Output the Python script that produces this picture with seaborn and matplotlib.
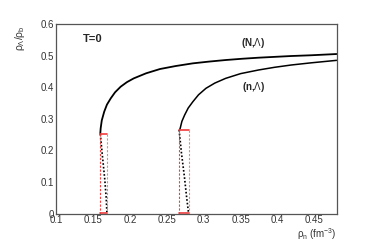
import numpy as np
import pandas as pd
import seaborn as sns
import matplotlib
matplotlib.use("Agg")
import matplotlib.pyplot as plt
from matplotlib.ticker import MultipleLocator, FuncFormatter

# (N,Lambda) branch
nl_x = [0.160, 0.1605, 0.162, 0.1653, 0.169, 0.1742, 0.180, 0.1876, 0.196, 0.2053, 0.222,
        0.2409, 0.262, 0.2853, 0.307, 0.3297, 0.352, 0.3743, 0.396, 0.4187, 0.445, 0.480]
nl_y = [0.254, 0.270, 0.295, 0.3226, 0.345, 0.365, 0.384, 0.4017, 0.416, 0.428, 0.444,
        0.4576, 0.467, 0.4755, 0.481, 0.486, 0.490, 0.4934, 0.496, 0.4987, 0.501, 0.505]
# (n,Lambda) branch
ne_x = [0.2675, 0.2684, 0.2705, 0.2742, 0.279, 0.2853, 0.293, 0.3031, 0.315, 0.3297,
        0.350, 0.3743, 0.396, 0.4187, 0.445, 0.480]
ne_y = [0.265, 0.272, 0.292, 0.312, 0.334, 0.354, 0.376, 0.3966, 0.413, 0.428,
        0.443, 0.4545, 0.463, 0.4703, 0.477, 0.485]
# dotted drops
d1_x = [0.160, 0.163, 0.166, 0.168, 0.169]
d1_y = [0.252, 0.180, 0.110, 0.050, 0.0]
d2_x = [0.2667, 0.270, 0.274, 0.277, 0.2796]
d2_y = [0.265, 0.190, 0.115, 0.050, 0.0]
# red boxes (left, right, top)
boxes = [(0.159, 0.169, 0.252), (0.2667, 0.2796, 0.265)]

sns.set_style("white")
plt.rcParams['font.family'] = ['Liberation Sans', 'DejaVu Sans']
plt.rcParams['mathtext.fontset'] = 'custom'
plt.rcParams['mathtext.rm'] = 'Liberation Sans'
plt.rcParams['mathtext.it'] = 'Liberation Sans'
plt.rcParams['mathtext.bf'] = 'Liberation Sans:bold'

fig = plt.figure(figsize=(3.74, 2.43), dpi=100)
ax = fig.add_axes([0.1497, 0.1206, 0.7503, 0.7807])

df1 = pd.DataFrame({"x": nl_x, "y": nl_y})
df2 = pd.DataFrame({"x": ne_x, "y": ne_y})
sns.lineplot(data=df1, x="x", y="y", ax=ax, color="black", lw=1.3, sort=False)
sns.lineplot(data=df2, x="x", y="y", ax=ax, color="black", lw=1.1, sort=False)
sns.lineplot(x=d1_x, y=d1_y, ax=ax, color="black", lw=1.2, ls=(0, (1, 1.2)), sort=False)
sns.lineplot(x=d2_x, y=d2_y, ax=ax, color="black", lw=1.2, ls=(0, (1, 1.2)), sort=False)

for l, r, t in boxes:
    ax.plot([l, r], [t, t], color="#f03c3c", lw=1.2)
    ax.plot([l, r], [0.001, 0.001], color="#f03c3c", lw=1.2)
    ax.plot([l, l], [0, t], color="#f03c3c", lw=0.8, ls=(0, (2, 1.5)))
    ax.plot([r, r], [0, t], color="#f58080", lw=0.8, ls=(0, (2, 1.5)))

ax.set_xlim(0.1, 0.48)
ax.set_ylim(0, 0.6)
ax.xaxis.set_major_locator(MultipleLocator(0.05))
ax.xaxis.set_minor_locator(MultipleLocator(0.01))
ax.yaxis.set_major_locator(MultipleLocator(0.1))
ax.yaxis.set_minor_locator(MultipleLocator(0.02))
fmt = FuncFormatter(lambda v, p: "%g" % round(v, 3))
ax.xaxis.set_major_formatter(fmt)
ax.yaxis.set_major_formatter(fmt)
ax.tick_params(axis="x", which="major", direction="in", length=3.6, width=0.8, color="#555555", labelsize=7, labelcolor="#333333", pad=1)
ax.tick_params(axis="x", which="minor", direction="in", length=1.8, width=0.7, color="#555555")
ax.tick_params(axis="y", which="major", direction="in", length=6.5, width=0.8, color="#555555", labelsize=7, labelcolor="#333333", pad=1.5)
ax.tick_params(axis="y", which="minor", direction="in", length=3.2, width=0.7, color="#555555")
for s in ax.spines.values():
    s.set_color("#555555")
    s.set_linewidth(0.9)

ax.set_xlabel(r"$\rho_{n}$ (fm$^{-3}$)", fontsize=7, color="#333333", loc="right", labelpad=1)
ax.set_ylabel("")
fig.text(0.0535, 0.897, r"$\rho_{\Lambda}/\rho_{b}$", fontsize=7.5, color="#333333",
         rotation=90, ha="center", va="top")

ax.text(0.136, 0.553, "T=0", fontsize=8, fontweight="bold", ha="left", va="center")
ax.text(0.3676, 0.539, r"(N,$\Lambda$)", fontsize=7, fontweight="bold", ha="center", va="center")
ax.text(0.3676, 0.400, r"(n,$\Lambda$)", fontsize=7, fontweight="bold", ha="center", va="center")

fig.savefig("out.png", dpi=100)
